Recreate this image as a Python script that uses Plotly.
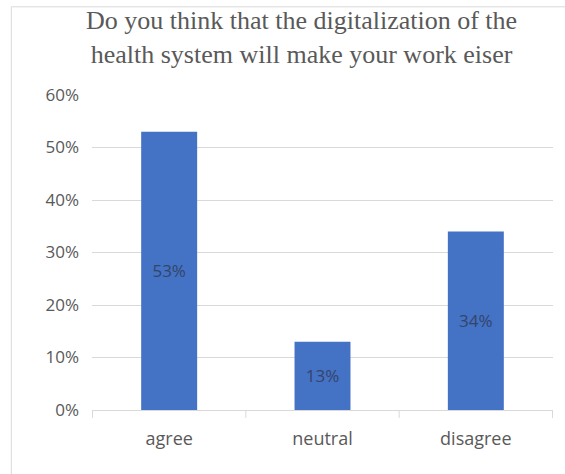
import plotly.graph_objects as go

categories = ["agree", "neutral", "disagree"]
shares = [0.53, 0.13, 0.34]
tick_vals = [0, 0.1, 0.2, 0.3, 0.4, 0.5, 0.6]
tick_text = ["0%", "10%", "20%", "30%", "40%", "50%", "60%"]
title_text = "Do you think that the digitalization of the<br>health system will make your work eiser"

fig = go.Figure(
    go.Bar(
        x=categories,
        y=shares,
        marker=dict(color="#4472C4", line=dict(width=0)),
        text=[f"{round(v * 100)}%" for v in shares],
        textposition="inside",
        insidetextanchor="middle",
        textfont=dict(family="Open Sans", size=17, color="#33456b"),
        width=0.365,
    )
)

fig.update_layout(
    width=565,
    height=474,
    margin=dict(l=92, r=12, t=95, b=64),
    paper_bgcolor="white",
    plot_bgcolor="white",
    showlegend=False,
    xaxis=dict(
        showline=True,
        linecolor="#d9d9d9",
        linewidth=1,
        ticks="outside",
        ticklen=12,
        tickcolor="rgba(0,0,0,0)",
        tickfont=dict(family="Open Sans", size=18, color="#595959"),
        showgrid=False,
    ),
    yaxis=dict(
        range=[0, 0.6],
        tickvals=tick_vals,
        ticktext=tick_text,
        tickfont=dict(family="Open Sans", size=17, color="#595959"),
        showgrid=True,
        gridcolor="#d9d9d9",
        gridwidth=1,
        zeroline=False,
        showline=False,
        ticks="",
        ticklabelstandoff=12,
    ),
    annotations=[
        dict(
            text=title_text,
            xref="paper", yref="paper",
            x=0.455, y=1.181,
            xanchor="center", yanchor="middle",
            showarrow=False,
            font=dict(family="Liberation Serif", size=26, color="#595959"),
        )
    ],
    shapes=[
        # chart frame
        dict(type="rect", xref="paper", yref="paper", x0=-0.175, x1=1.04, y0=-0.25, y1=1.28,
             line=dict(color="#d9d9d9", width=1)),
    ]
    + [
        # category separator tick marks under the baseline
        dict(type="line", xref="x", yref="paper", x0=b, x1=b, y0=0, y1=-0.025,
             line=dict(color="#d9d9d9", width=1))
        for b in [-0.5, 0.5, 1.5, 2.5]
    ],
)

fig.write_html("out.html")
